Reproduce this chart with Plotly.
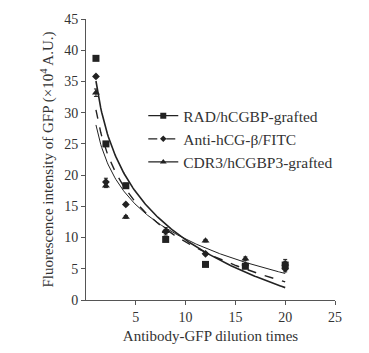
import numpy as np
import plotly.graph_objects as go

dilution = [1, 2, 4, 8, 12, 16, 20]
rad = [38.7, 25.0, 18.3, 9.7, 5.7, 5.4, 5.6]
rad_err = [0.3, 0.3, 0.4, 0.3, 0.2, 0.3, 0.6]
anti = [35.8, 18.9, 15.3, 11.0, 7.4, 5.6, 5.0]
anti_err = [0.2, 0.6, 0.2, 0.3, 0.2, 0.2, 0.5]
cdr3 = [33.2, 18.3, 13.3, 11.0, 9.5, 6.6, 5.8]
cdr3_err = [0.6, 0.3, 0.2, 0.6, 0.2, 0.3, 0.7]
names = ["RAD/hCGBP-grafted", "Anti-hCG-β/FITC", "CDR3/hCGBP3-grafted"]

C = "#222222"
FONT = "Liberation Serif"

series = [
    (rad, rad_err, "square", 7, "solid", 1.6),
    (anti, anti_err, "diamond", 6, "dash", 1.4),
    (cdr3, cdr3_err, "triangle-up", 7, "solid", 1.0),
]

fig = go.Figure()
xf = np.linspace(1, 20, 200)
for (vals, err, sym, sz, dash, lw), name in zip(series, names):
    # logarithmic trendline fitted from the data
    b, a = np.polyfit(np.log(dilution), vals, 1)
    fig.add_trace(go.Scatter(x=xf, y=a + b * np.log(xf), mode="lines",
                             line=dict(color=C, width=lw, dash=dash),
                             showlegend=False, hoverinfo="skip"))
    fig.add_trace(go.Scatter(x=dilution, y=vals, mode="markers",
                             marker=dict(symbol=sym, size=sz, color=C),
                             error_y=dict(type="data", array=err, color=C,
                                          thickness=1, width=2),
                             showlegend=False))
for (vals, err, sym, sz, dash, lw), name in zip(series, names):
    fig.add_trace(go.Scatter(x=[None], y=[None], mode="lines+markers", name=name,
                             marker=dict(symbol=sym, size=sz - 1, color=C),
                             line=dict(color=C, width=1.2, dash=dash)))

fig.update_layout(
    width=369, height=353,
    margin=dict(l=86, r=34, t=16, b=43),
    paper_bgcolor="white", plot_bgcolor="white",
    font=dict(family=FONT, color="#333333", size=14),
    legend=dict(x=0.23, y=0.715, xanchor="left", yanchor="top",
                font=dict(size=15.5, family=FONT, color="#333333"),
                bgcolor="rgba(0,0,0,0)",
                itemwidth=30, tracegroupgap=0),
    xaxis=dict(range=[0, 25], tickvals=[5, 10, 15, 20, 25],
               showgrid=False, zeroline=False, showline=True,
               linecolor="#555555", linewidth=1, ticks="outside", ticklen=4,
               tickcolor="#555555", tickfont=dict(size=14),
               title=dict(text="Antibody-GFP dilution times",
                          font=dict(size=15), standoff=6)),
    yaxis=dict(range=[0, 45], tickvals=list(range(0, 46, 5)),
               showgrid=False, zeroline=False, showline=True,
               linecolor="#555555", linewidth=1, ticks="outside", ticklen=4,
               tickcolor="#555555", tickfont=dict(size=14),
               title=dict(text="Fluorescence intensity of GFP (×10<sup>4</sup> A.U.)",
                          font=dict(size=15), standoff=6)),
)

fig.write_html("out.html")
